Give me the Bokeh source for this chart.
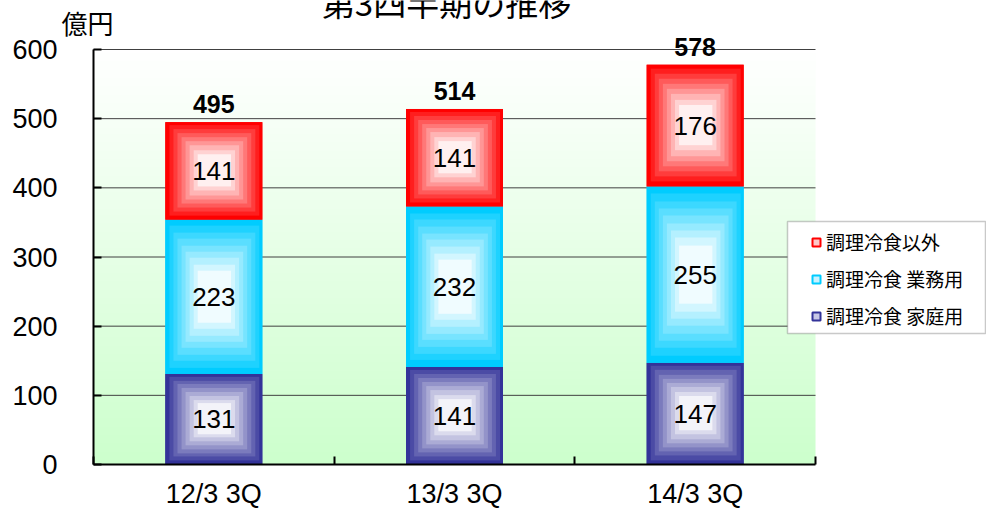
import numpy as np
from bokeh.plotting import figure
from bokeh.models import (Range1d, FixedTicker, ColumnDataSource, LabelSet, Label,
                          Legend, LegendItem, LinearAxis, BoxAnnotation)
from bokeh.core.properties import value
from bokeh.embed import file_html
from bokeh.resources import INLINE

# ---------------- data ----------------
categories = ["12/3 3Q", "13/3 3Q", "14/3 3Q"]
series_names = ["調理冷食 家庭用", "調理冷食 業務用", "調理冷食以外"]
home_use = [131, 141, 147]
business_use = [223, 232, 255]
other_use = [141, 141, 176]
totals = [495, 514, 578]
y_ticks = [0, 100, 200, 300, 400, 500, 600]
title_text = "第3四半期の推移"
unit_text = "億円"

# ---------------- layout (pixels of the page) ----------------
W, H = 986, 511
PL, PR, PT, PB = 93, 815, 49, 464          # data area edges in pixels
XMAX, YMAX = len(categories), y_ticks[-1]
px_x = (PR - PL) / XMAX
px_y = (PB - PT) / YMAX
BAR_W = 0.403


def dx(px):
    return (px - PL) / px_x


def dy(py):
    return (PB - py) / px_y


colors = ["#333399", "#00ccff", "#ff0000"]
light_colors = ["#c8c8e6", "#c8f2ff", "#ffc8c8"]
JP = "Noto Sans CJK JP"
NUM = "Liberation Sans"

p = figure(width=W, height=H, x_range=Range1d(dx(0), dx(W)), y_range=Range1d(dy(H), dy(0)),
           output_backend="svg", toolbar_location=None,
           x_axis_location=None, y_axis_location=None,
           min_border=0, min_border_left=0, min_border_right=0,
           min_border_top=0, min_border_bottom=0)
p.outline_line_color = None
p.background_fill_color = "white"
p.border_fill_color = "white"
p.xgrid.visible = False
p.ygrid.visible = False


def hex2rgb(h):
    h = h.lstrip("#")
    return np.array([int(h[i:i + 2], 16) for i in (0, 2, 4)], dtype=float)


def pack(rgb):
    h, w, _ = rgb.shape
    img = np.empty((h, w), dtype=np.uint32)
    v = img.view(dtype=np.uint8).reshape((h, w, 4))
    v[..., :3] = np.clip(np.round(rgb), 0, 255).astype(np.uint8)
    v[..., 3] = 255
    return img


# background vertical gradient of the plot area (white top -> light green bottom)
rows = 200
t = np.linspace(0, 1, rows)[:, None, None]
bg_bottom, bg_top = hex2rgb("#ccffcc"), hex2rgb("#ffffff")
bg = np.repeat(bg_bottom + (bg_top - bg_bottom) * t, 2, axis=1)
p.image_rgba(image=[pack(bg)], x=0, y=0, dw=XMAX, dh=YMAX, level="image")

# horizontal grid lines across the plot area only
grid_y = y_ticks[1:]
p.segment(x0=[0] * len(grid_y), x1=[XMAX] * len(grid_y), y0=grid_y, y1=grid_y,
          line_color="#404040", line_width=1, level="underlay")

xs = [i + 0.5 for i in range(len(categories))]

# axes (fixed at the data origin)
xaxis = LinearAxis(fixed_location=0, bounds=(0, XMAX))
xaxis.ticker = FixedTicker(ticks=xs, minor_ticks=list(range(len(categories) + 1)))
xaxis.major_label_overrides = {x: c for x, c in zip(xs, categories)}
xaxis.major_tick_in = 0
xaxis.major_tick_out = 0
xaxis.minor_tick_in = 8
xaxis.minor_tick_out = 0
xaxis.minor_tick_line_color = "black"
xaxis.minor_tick_line_width = 2
xaxis.axis_line_width = 2
xaxis.axis_line_color = "black"
xaxis.major_label_standoff = 14
xaxis.major_label_text_font = NUM
xaxis.major_label_text_font_size = "27px"
xaxis.major_label_text_color = "black"
p.add_layout(xaxis, "below")

yaxis = LinearAxis(fixed_location=0, bounds=(0, YMAX))
yaxis.ticker = FixedTicker(ticks=y_ticks)
yaxis.major_tick_in = 8
yaxis.major_tick_out = 0
yaxis.major_tick_line_width = 2
yaxis.major_tick_line_color = "black"
yaxis.minor_tick_line_color = None
yaxis.axis_line_width = 2
yaxis.axis_line_color = "black"
yaxis.major_label_standoff = 36
yaxis.major_label_text_font = NUM
yaxis.major_label_text_font_size = "27px"
yaxis.major_label_text_color = "black"
p.add_layout(yaxis, "left")

# stacked bars
src = ColumnDataSource(dict(x=xs, home=home_use, business=business_use, other=other_use))
keys = ["home", "business", "other"]
p.vbar_stack(keys, x="x", width=BAR_W, color=colors, source=src, line_color=None)


def ring_image(w_px, h_px, outer, levels=9, center_mix=0.94):
    w = max(int(round(w_px)), 2)
    h = max(int(round(h_px)), 2)
    xx = (np.arange(w) + 0.5) / w * 2 - 1
    yy = (np.arange(h) + 0.5) / h * 2 - 1
    r = np.maximum(np.abs(xx)[None, :], np.abs(yy)[:, None])
    s = np.clip((1 - r) / 0.75, 0, 1)
    q = np.minimum(np.floor(s * levels) / (levels - 1), 1.0)
    mix = (q * center_mix)[..., None]
    return pack(outer * (1 - mix) + 255 * mix)


series_vals = [home_use, business_use, other_use]
imgs, ix, iy, idw, idh = [], [], [], [], []
mid_x, mid_y, mid_t = [], [], []
for i, xc in enumerate(xs):
    bottom = 0
    for k, vals in enumerate(series_vals):
        v = vals[i]
        imgs.append(ring_image(BAR_W * px_x, v * px_y, hex2rgb(colors[k])))
        ix.append(xc - BAR_W / 2)
        iy.append(bottom)
        idw.append(BAR_W)
        idh.append(v)
        mid_x.append(xc)
        mid_y.append(bottom + v / 2)
        mid_t.append(str(v))
        bottom += v
p.image_rgba(image=imgs, x=ix, y=iy, dw=idw, dh=idh)

# value labels
lab_src = ColumnDataSource(dict(x=mid_x, y=mid_y, t=mid_t))
p.add_layout(LabelSet(x="x", y="y", text="t", source=lab_src, text_align="center",
                      text_baseline="middle", text_font=value(NUM), text_font_size="26px",
                      text_color="black"))
tot_src = ColumnDataSource(dict(x=xs, y=totals, t=[str(v) for v in totals]))
p.add_layout(LabelSet(x="x", y="y", text="t", source=tot_src, text_align="center",
                      text_baseline="middle", y_offset=18, text_font=value(NUM),
                      text_font_size="25px", text_font_style="bold", text_color="black"))

# unit label and (cropped, as in the original) title
p.add_layout(Label(x=dx(87), y=dy(22), text=unit_text,
                   text_align="center", text_baseline="middle", text_font=JP,
                   text_font_size="26px", text_color="black"))
p.add_layout(Label(x=dx(446), y=dy(1), text=title_text,
                   text_align="center", text_baseline="middle", text_font=JP,
                   text_font_size="33px", text_color="black"))

# legend frame
p.add_layout(BoxAnnotation(left=dx(787), right=dx(985), bottom=dy(333), top=dy(221),
                           fill_color="white", fill_alpha=1.0,
                           line_color="#4d4d4d", line_width=1.5))

# legend (glyphs drawn from hidden square markers)
items = []
for k in reversed(range(len(series_names))):
    r = p.scatter(x="x", y=keys[k], source=src, marker="square", size=9,
                  fill_color=light_colors[k], line_color=colors[k], line_width=2)
    r.visible = False
    items.append(LegendItem(label=series_names[k], renderers=[r]))

legend = Legend(items=items, location=(806, 182), orientation="vertical",
                padding=0, spacing=10, glyph_width=20, glyph_height=22,
                label_height=22, label_standoff=0,
                label_text_font=JP, label_text_font_size="19px", label_text_color="black",
                border_line_color=None, background_fill_alpha=0.0,
                inactive_fill_alpha=0.0, margin=0)
p.add_layout(legend)

open("out.html", "w").write(file_html(p, INLINE))
